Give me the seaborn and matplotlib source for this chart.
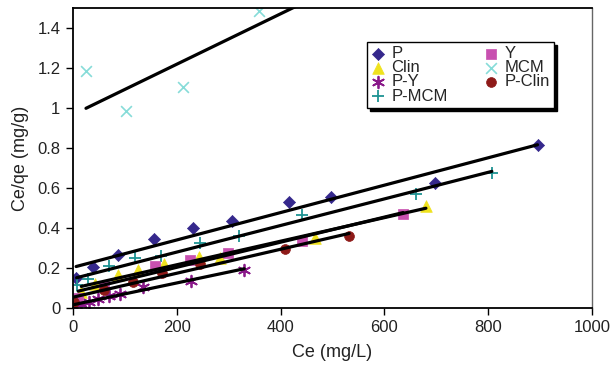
import numpy as np
import pandas as pd
import matplotlib
matplotlib.use("Agg")
import matplotlib.pyplot as plt
import seaborn as sns

# データ
p_x = [6, 38, 87, 156, 232, 307, 417, 498, 697, 895]
p_y = [0.148, 0.203, 0.265, 0.343, 0.398, 0.437, 0.528, 0.553, 0.627, 0.813]

y_x = [10, 60, 158, 225, 299, 442, 636]
y_y = [0.05, 0.11, 0.21, 0.24, 0.277, 0.337, 0.47]

clin_x = [16, 42, 87, 126, 176, 243, 283, 466, 680]
clin_y = [0.08, 0.12, 0.165, 0.19, 0.22, 0.253, 0.248, 0.348, 0.51]

mcm_x = [25, 102, 211, 359]
mcm_y = [1.185, 0.985, 1.107, 1.485]
# MCMの近似直線（高濃度の点は表示範囲外のため、傾きと切片を直接読み取り）
mcm_slope = 0.00126
mcm_intercept = 0.967
mcm_line_x = [25, 800]

py_x = [2, 15, 30, 48, 70, 90, 135, 228, 330]
py_y = [0.005, 0.02, 0.03, 0.045, 0.06, 0.07, 0.105, 0.137, 0.19]

pclin_x = [2, 60, 116, 172, 245, 408, 532]
pclin_y = [0.03, 0.09, 0.13, 0.175, 0.218, 0.293, 0.362]

pmcm_x = [7, 28, 69, 119, 170, 245, 320, 442, 661, 807]
pmcm_y = [0.115, 0.143, 0.21, 0.248, 0.262, 0.327, 0.36, 0.465, 0.57, 0.673]

x_ticks = [0, 200, 400, 600, 800, 1000]
y_ticks = [0, 0.2, 0.4, 0.6, 0.8, 1.0, 1.2, 1.4]

sns.set_style("ticks")
plt.rcParams['font.family'] = ['Liberation Sans', 'DejaVu Sans']

fig = plt.figure(figsize=(6.11, 3.71), dpi=100)
ax = fig.add_axes([73 / 611, 1 - 308 / 371, (592 - 73) / 611, 300 / 371])

# 系列ごとの設定: (名前, x, y, マーカー, 色, サイズ, 線幅)
series = [
    ('P', p_x, p_y, 'D', '#35288C', 38, 0),
    ('Clin', clin_x, clin_y, '^', '#EFE21E', 70, 0),
    ('P-Y', py_x, py_y, (6, 2, 0), '#8A1A8A', 70, 1.3),
    ('P-MCM', pmcm_x, pmcm_y, '+', '#1E9393', 80, 1.3),
    ('Y', y_x, y_y, 's', '#C850B0', 50, 0),
    ('MCM', mcm_x, mcm_y, 'x', '#86DCD8', 60, 1.2),
    ('P-Clin', pclin_x, pclin_y, 'o', '#8E1A18', 50, 0),
]

# 近似直線
for name, xs, ys, mk, col, s, lw in series:
    if name == 'MCM':
        continue
    sns.regplot(x=np.array(xs, dtype=float), y=np.array(ys), ax=ax, scatter=False,
                ci=None, truncate=True, color='black', line_kws={'linewidth': 2.3, 'zorder': 3})
mcm_lx = np.array(mcm_line_x, dtype=float)
sns.lineplot(x=mcm_lx, y=mcm_intercept + mcm_slope * mcm_lx, ax=ax, color='black',
             linewidth=2.3, zorder=3)

# 散布点
for name, xs, ys, mk, col, s, lw in series:
    if lw > 0:
        sns.scatterplot(x=xs, y=ys, ax=ax, marker=mk, color=col, s=s,
                        linewidth=lw, label=name, zorder=2)
    else:
        sns.scatterplot(x=xs, y=ys, ax=ax, marker=mk, color=col, s=s,
                        edgecolor=col, linewidth=0.5, label=name, zorder=2)

ax.set_xlim(0, 1000)
ax.set_ylim(0, 1.5)
ax.set_xticks(x_ticks)
ax.set_yticks(y_ticks)
ax.set_yticklabels([f'{v:g}' for v in y_ticks])
ax.tick_params(axis='both', labelsize=12, length=5, width=1, color='black', labelcolor='#222222', pad=4)
ax.set_xlabel('Ce (mg/L)', fontsize=13, color='#222222', labelpad=6)
ax.set_ylabel('Ce/qe (mg/g)', fontsize=13, color='#222222', labelpad=6)

for side in ['left', 'bottom', 'top']:
    ax.spines[side].set_color('black')
    ax.spines[side].set_linewidth(1.3)
ax.spines['right'].set_color('#666666')
ax.spines['right'].set_linewidth(1.0)

handles, labels = ax.get_legend_handles_labels()
leg = ax.legend(handles, labels, ncol=2, loc='upper left',
                bbox_to_anchor=(367 / 611, 1 - 42 / 371), bbox_transform=fig.transFigure,
                borderaxespad=0, fontsize=12, frameon=True, fancybox=False,
                shadow={'color': 'black', 'alpha': 1}, labelspacing=-0.05,
                handlelength=0.8, handletextpad=0.4, columnspacing=2.2, borderpad=0.25)
leg.get_frame().set_edgecolor('black')
leg.get_frame().set_linewidth(1.0)

fig.savefig('out.png', dpi=100)
